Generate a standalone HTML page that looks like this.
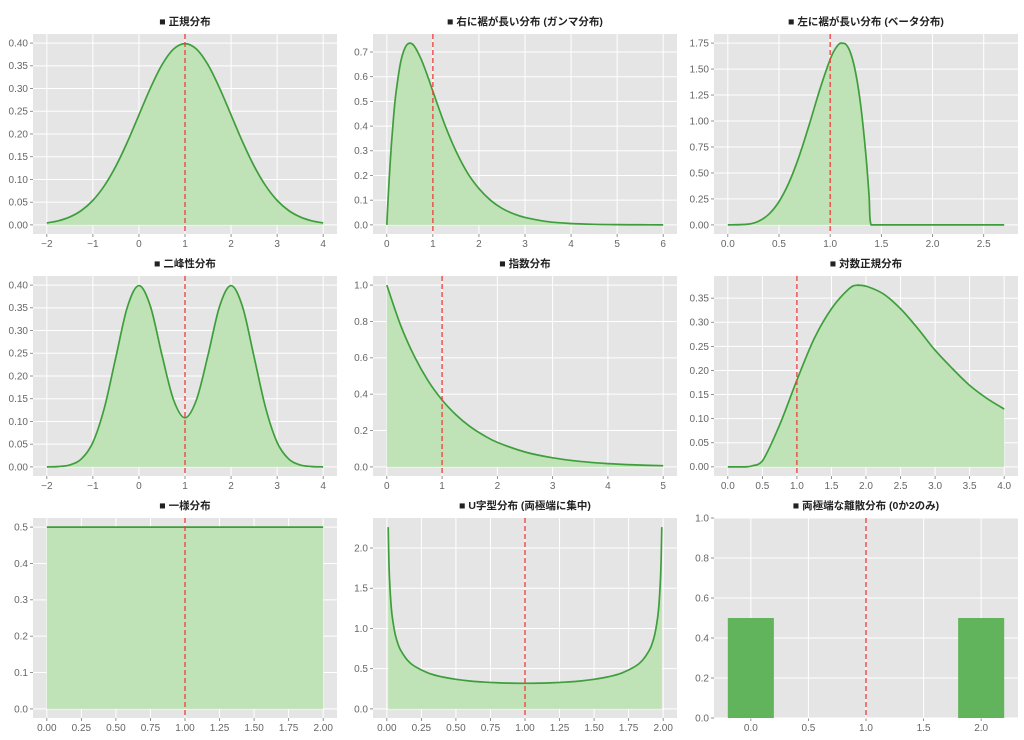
<!DOCTYPE html>
<html><head><meta charset="utf-8">
<style>
html,body{margin:0;padding:0;background:#fff;}
svg{display:block;font-family:"Liberation Sans","Noto Sans CJK JP",sans-serif;}
</style></head>
<body>
<svg id="fig" width="1024" height="740" viewBox="0 0 1024 740"></svg>
<script>
// ---- data ----
const normalX=[-2,-1.75,-1.5,-1.25,-1,-0.75,-0.5,-0.25,0,0.25,0.5,0.75,1,1.25,1.5,1.75,2,2.25,2.5,2.75,3,3.25,3.5,3.75,4];
const normalY=[0.0044,0.0091,0.0175,0.0317,0.054,0.0863,0.1295,0.1826,0.242,0.3011,0.3521,0.3867,0.3989,0.3867,0.3521,0.3011,0.242,0.1826,0.1295,0.0863,0.054,0.0317,0.0175,0.0091,0.0044];
const gammaX=[0,0.025,0.05,0.1,0.15,0.2,0.3,0.4,0.5,0.6,0.75,0.9,1,1.25,1.5,1.75,2,2.25,2.5,2.75,3,3.5,4,4.5,5,5.5,6];
const gammaY=[0,0.095,0.181,0.327,0.445,0.536,0.659,0.719,0.736,0.723,0.669,0.595,0.541,0.410,0.299,0.211,0.147,0.100,0.067,0.045,0.030,0.0128,0.0054,0.0022,0.0009,0.0004,0.0001];
const betaX=[0,0.2,0.3,0.4,0.5,0.6,0.7,0.8,0.9,1.0,1.05,1.1,1.15,1.2,1.25,1.3,1.35,1.38,1.4,2.0,2.7];
const betaY=[0,0.0076,0.035,0.102,0.224,0.413,0.670,0.979,1.307,1.594,1.695,1.750,1.742,1.653,1.459,1.138,0.662,0.28,0,0,0];
const bimodalX=[-2,-1.75,-1.5,-1.25,-1,-0.75,-0.5,-0.25,0,0.25,0.5,0.75,1,1.25,1.5,1.75,2,2.25,2.5,2.75,3,3.25,3.5,3.75,4];
const bimodalY=[0.0001,0.0009,0.0044,0.0175,0.054,0.130,0.242,0.352,0.399,0.353,0.246,0.148,0.108,0.148,0.246,0.353,0.399,0.352,0.242,0.130,0.054,0.0175,0.0044,0.0009,0.0001];
const expX=[0,0.25,0.5,0.75,1,1.25,1.5,1.75,2,2.5,3,3.5,4,4.5,5];
const expY=[1,0.779,0.607,0.472,0.368,0.287,0.223,0.174,0.135,0.082,0.050,0.030,0.018,0.011,0.0067];
const lognX=[0,0.25,0.35,0.5,0.75,1,1.25,1.5,1.75,1.87,2,2.25,2.5,2.75,3,3.25,3.5,3.75,4];
const lognY=[0,0,0.002,0.012,0.087,0.18,0.266,0.328,0.369,0.377,0.375,0.359,0.328,0.287,0.242,0.204,0.169,0.142,0.12];
const uniformX=[0,2];
const uniformY=[0.5,0.5];
const arcX=[0.01,0.015,0.02,0.03,0.04,0.06,0.08,0.1,0.15,0.2,0.3,0.4,0.5,0.6,0.7,0.8,0.9,1,1.1,1.2,1.3,1.4,1.5,1.6,1.7,1.8,1.85,1.9,1.92,1.94,1.96,1.97,1.98,1.985,1.99];
const arcY=[2.26,1.84,1.60,1.31,1.137,0.933,0.811,0.730,0.604,0.531,0.446,0.398,0.368,0.347,0.334,0.325,0.320,0.318,0.320,0.325,0.334,0.347,0.368,0.398,0.446,0.531,0.604,0.730,0.811,0.933,1.137,1.31,1.60,1.84,2.26];
const barCats=[0,2];
const barVals=[0.5,0.5];
const meanLine=1;

const panels=[
 {name:'normal',title:'■ 正規分布',x:normalX,y:normalY,xl:[-2.3,4.3],yl:[-0.02,0.42],xt:['−2','−1','0','1','2','3','4'],yt:['0.00','0.05','0.10','0.15','0.20','0.25','0.30','0.35','0.40']},
 {name:'gamma',title:'■ 右に裾が長い分布 (ガンマ分布)',x:gammaX,y:gammaY,xl:[-0.3,6.3],yl:[-0.037,0.773],xt:['0','1','2','3','4','5','6'],yt:['0.0','0.1','0.2','0.3','0.4','0.5','0.6','0.7']},
 {name:'beta',title:'■ 左に裾が長い分布 (ベータ分布)',x:betaX,y:betaY,xl:[-0.135,2.835],yl:[-0.0875,1.8375],xt:['0.0','0.5','1.0','1.5','2.0','2.5'],yt:['0.00','0.25','0.50','0.75','1.00','1.25','1.50','1.75']},
 {name:'bimodal',title:'■ 二峰性分布',x:bimodalX,y:bimodalY,xl:[-2.3,4.3],yl:[-0.02,0.42],xt:['−2','−1','0','1','2','3','4'],yt:['0.00','0.05','0.10','0.15','0.20','0.25','0.30','0.35','0.40']},
 {name:'exponential',title:'■ 指数分布',x:expX,y:expY,xl:[-0.25,5.25],yl:[-0.05,1.05],xt:['0','1','2','3','4','5'],yt:['0.0','0.2','0.4','0.6','0.8','1.0']},
 {name:'lognormal',title:'■ 対数正規分布',x:lognX,y:lognY,xl:[-0.2,4.2],yl:[-0.019,0.396],xt:['0.0','0.5','1.0','1.5','2.0','2.5','3.0','3.5','4.0'],yt:['0.00','0.05','0.10','0.15','0.20','0.25','0.30','0.35']},
 {name:'uniform',title:'■ 一様分布',x:uniformX,y:uniformY,xl:[-0.1,2.1],yl:[-0.025,0.525],xt:['0.00','0.25','0.50','0.75','1.00','1.25','1.50','1.75','2.00'],yt:['0.0','0.1','0.2','0.3','0.4','0.5']},
 {name:'u-shape',title:'■ U字型分布 (両極端に集中)',x:arcX,y:arcY,xl:[-0.1,2.1],yl:[-0.113,2.373],xt:['0.00','0.25','0.50','0.75','1.00','1.25','1.50','1.75','2.00'],yt:['0.0','0.5','1.0','1.5','2.0']},
 {name:'discrete',title:'■ 両極端な離散分布 (0か2のみ)',bars:true,xl:[-0.32,2.32],yl:[0,1],xt:['0.0','0.5','1.0','1.5','2.0'],yt:['0.0','0.2','0.4','0.6','0.8','1.0']}
];
const colL=[33,373,714], rowT=[34,276,518], PW=304, PH=200;

const NS='http://www.w3.org/2000/svg';
const svg=document.getElementById('fig');
function mk(tag,attrs,parent){const e=document.createElementNS(NS,tag);for(const k in attrs)e.setAttribute(k,attrs[k]);parent.appendChild(e);return e;}
function num(s){return parseFloat(s.replace('−','-'));}
function smooth(P){
  let d='M'+P[0][0].toFixed(2)+','+P[0][1].toFixed(2);
  for(let i=0;i<P.length-1;i++){
    const p0=P[i-1]||P[i],p1=P[i],p2=P[i+1],p3=P[i+2]||P[i+1];
    const lo=Math.min(p1[1],p2[1]),hi=Math.max(p1[1],p2[1]);
    const cl=v=>Math.max(lo,Math.min(hi,v));
    const clx=v=>Math.max(p1[0],Math.min(p2[0],v));
    const c1x=clx(p1[0]+(p2[0]-p0[0])/6),c1y=cl(p1[1]+(p2[1]-p0[1])/6);
    const c2x=clx(p2[0]-(p3[0]-p1[0])/6),c2y=cl(p2[1]-(p3[1]-p1[1])/6);
    d+='C'+c1x.toFixed(2)+','+c1y.toFixed(2)+' '+c2x.toFixed(2)+','+c2y.toFixed(2)+' '+p2[0].toFixed(2)+','+p2[1].toFixed(2);
  }
  return d;
}

panels.forEach((p,i)=>{
  const L=colL[i%3], T=rowT[Math.floor(i/3)];
  const sx=v=>L+(v-p.xl[0])/(p.xl[1]-p.xl[0])*PW;
  const sy=v=>T+PH-(v-p.yl[0])/(p.yl[1]-p.yl[0])*PH;
  const g=mk('g',{},svg);
  
  
  const bg=mk('rect',{x:L,y:T,width:PW,height:PH,fill:'#e5e5e5'},g);
  
  
  p.xt.forEach(t=>{const X=sx(num(t));
    mk('line',{x1:X,x2:X,y1:T,y2:T+PH,stroke:'#fff','stroke-width':1},g);
    mk('line',{x1:X,x2:X,y1:T+PH,y2:T+PH+3,stroke:'#777','stroke-width':0.8},g);
    const tx=mk('text',{x:X,y:T+PH+13,'font-size':10,fill:'#666','text-anchor':'middle'},g);tx.textContent=t;
    
    
  });
  p.yt.forEach(t=>{const Y=sy(num(t));
    mk('line',{x1:L,x2:L+PW,y1:Y,y2:Y,stroke:'#fff','stroke-width':1},g);
    mk('line',{x1:L-3,x2:L,y1:Y,y2:Y,stroke:'#777','stroke-width':0.8},g);
    const ty=mk('text',{x:L-5,y:Y+3.4,'font-size':10,fill:'#666','text-anchor':'end'},g);ty.textContent=t;
    
    
  });
  if(p.bars){
    barCats.forEach((c,k)=>{
      const r=mk('rect',{x:sx(c-0.2),y:sy(barVals[k]),width:sx(c+0.2)-sx(c-0.2),height:sy(0)-sy(barVals[k]),fill:'#62b45c'},g);
      
      
    });
  } else {
    const P=p.x.map((v,k)=>[sx(v),sy(p.y[k])]);
    const d=smooth(P);
    const f=mk('path',{d:d+'L'+sx(p.x[p.x.length-1]).toFixed(2)+','+sy(0).toFixed(2)+'L'+sx(p.x[0]).toFixed(2)+','+sy(0).toFixed(2)+'Z',fill:'#bfe3b6'},g);
    
    
    const ln=mk('path',{d:d,fill:'none',stroke:'#3f9e3c','stroke-width':1.7,'stroke-linejoin':'round'},g);
    
    
  }
  const m=mk('line',{x1:sx(meanLine),x2:sx(meanLine),y1:T,y2:T+PH,stroke:'#e8413c','stroke-width':1.3,'stroke-dasharray':'5,3'},g);
  
  
  const tt=mk('text',{x:L+PW/2,y:T-9,'font-size':10.5,fill:'#222','text-anchor':'middle','font-weight':'bold'},g);
  tt.textContent=p.title;
  
  
});
</script>
</body></html>
